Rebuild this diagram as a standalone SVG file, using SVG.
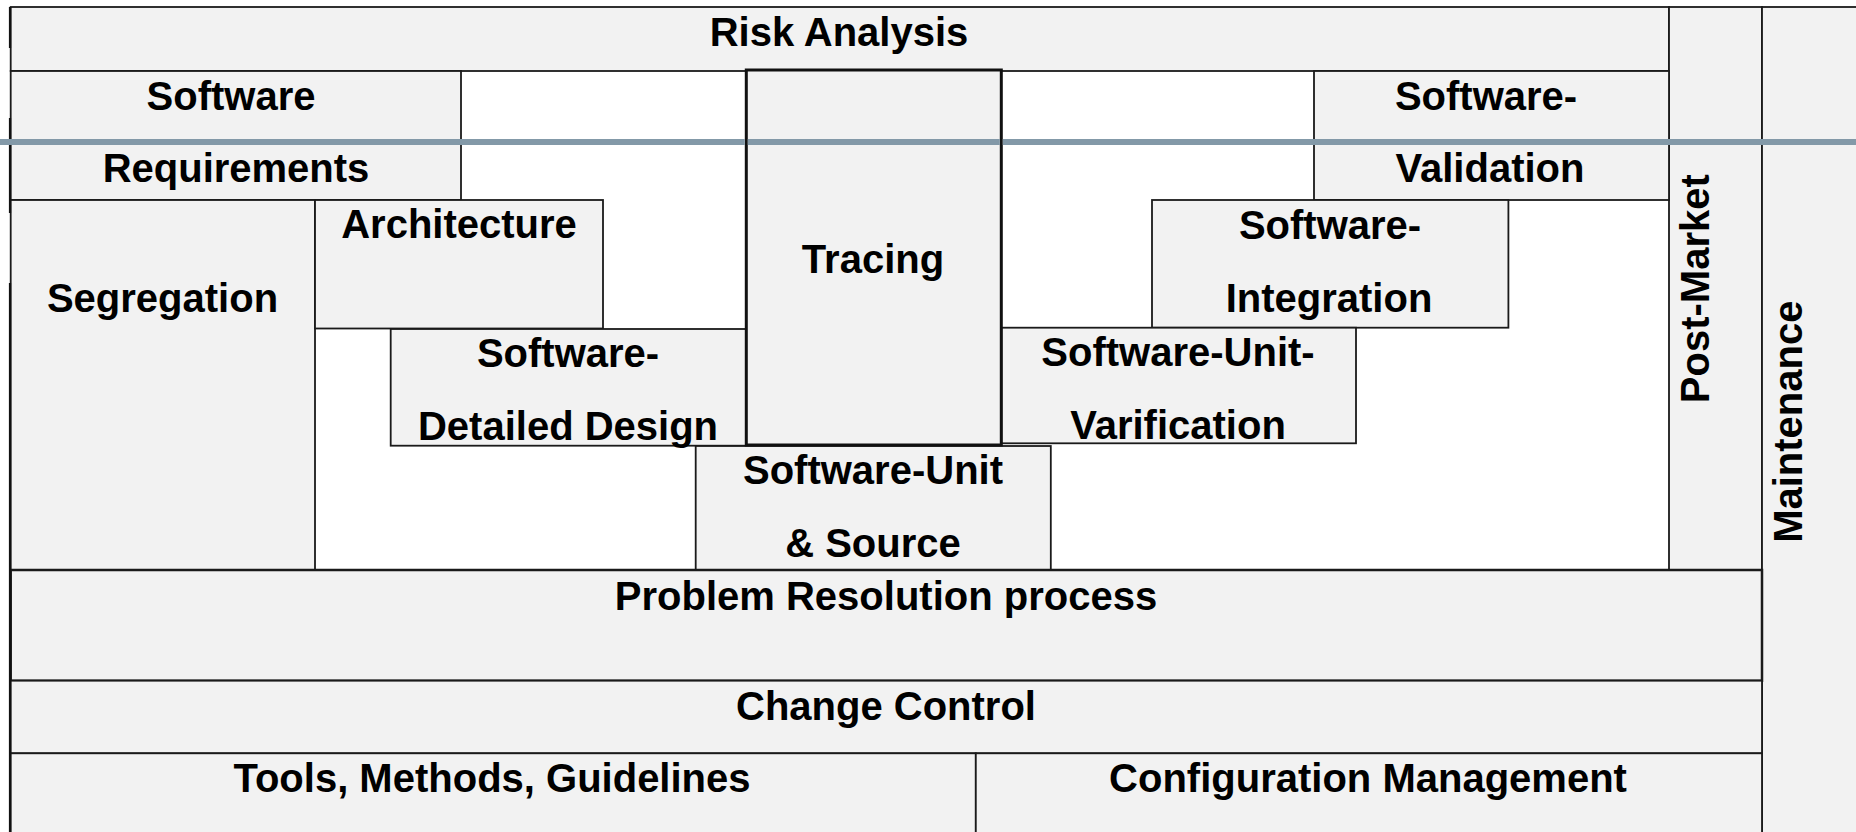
<svg xmlns="http://www.w3.org/2000/svg" width="1856" height="832" viewBox="0 0 1856 832">
<style>
.box{fill:#f2f2f2;stroke:#1a1a1a;stroke-width:1.8}
.thick{fill:#f2f2f2;stroke:#111;stroke-width:3}
.t{font-family:"Liberation Sans",Arial,sans-serif;font-weight:bold;font-size:40px;fill:#000;text-anchor:middle}
.edge{stroke:#111;stroke-width:2.2}
</style>
<rect x="0" y="0" width="1856" height="832" fill="#fff"/>
<g id="risk-analysis"><rect class="box" x="10.7" y="7" width="1658.3" height="64"/><text class="t" x="839" y="46">Risk Analysis</text></g>
<g id="post-market"><rect class="box" x="1669" y="7" width="93" height="563"/><text class="t" transform="translate(1709,288.7) rotate(-90)">Post-Market</text></g>
<g id="maintenance"><rect class="box" x="1762" y="7" width="100" height="840"/><text class="t" transform="translate(1802,421.7) rotate(-90)">Maintenance</text></g>
<g id="software-requirements"><rect class="box" x="10.7" y="71" width="450.3" height="129"/><text class="t" x="231" y="110">Software</text><text class="t" x="236" y="182">Requirements</text></g>
<g id="software-validation"><rect class="box" x="1314" y="71" width="355" height="129"/><text class="t" x="1486" y="110">Software-</text><text class="t" x="1490" y="182">Validation</text></g>
<g id="segregation"><rect class="box" x="10.7" y="200" width="304.3" height="370"/><text class="t" x="162.5" y="312">Segregation</text></g>
<g id="architecture"><rect class="box" x="315" y="200" width="288" height="128.5"/><text class="t" x="459" y="238">Architecture</text></g>
<g id="software-integration"><rect class="box" x="1152" y="200" width="356.4" height="127.7"/><text class="t" x="1330" y="238.5">Software-</text><text class="t" x="1329" y="312">Integration</text></g>
<g id="software-detailed-design"><rect class="box" x="390.7" y="329" width="355.6" height="116.7"/><text class="t" x="568" y="367">Software-</text><text class="t" x="568" y="440">Detailed Design</text></g>
<g id="software-unit-verification"><rect class="box" x="1001.3" y="327.7" width="354.7" height="115.6"/><text class="t" x="1178" y="366">Software-Unit-</text><text class="t" x="1178" y="438.5">Varification</text></g>
<g id="software-unit-source"><rect class="box" x="695.7" y="446" width="355.1" height="124"/><text class="t" x="873" y="484">Software-Unit</text><text class="t" x="873" y="557">&amp; Source</text></g>
<g id="problem-resolution"><rect class="box" x="10.7" y="570" width="1751.3" height="110.7" style="stroke-width:2.5"/><text class="t" x="886" y="609.5">Problem Resolution process</text></g>
<g id="change-control"><rect class="box" x="10.7" y="680.7" width="1751.3" height="72.6"/><text class="t" x="886" y="720">Change Control</text></g>
<g id="tools"><rect class="box" x="10.7" y="753.3" width="965.1" height="90"/><text class="t" x="492" y="792">Tools, Methods, Guidelines</text></g>
<g id="configuration-management"><rect class="box" x="975.8" y="753.3" width="786.2" height="90"/><text class="t" x="1368" y="792">Configuration Management</text></g>
<g id="tracing"><rect class="thick" x="746.3" y="70" width="255" height="375"/><text class="t" x="873" y="273">Tracing</text></g>
<g id="left-edge"><line class="edge" x1="10" y1="7" x2="10" y2="48"/><line class="edge" x1="10" y1="118" x2="10" y2="213"/><line class="edge" x1="10" y1="283" x2="10" y2="832"/></g>
<g id="connectors"><path d="M0 142H744.8M747.8 142H999.8M1002.8 142H1856" fill="none" stroke="#8399a8" stroke-width="6"/></g>
</svg>
